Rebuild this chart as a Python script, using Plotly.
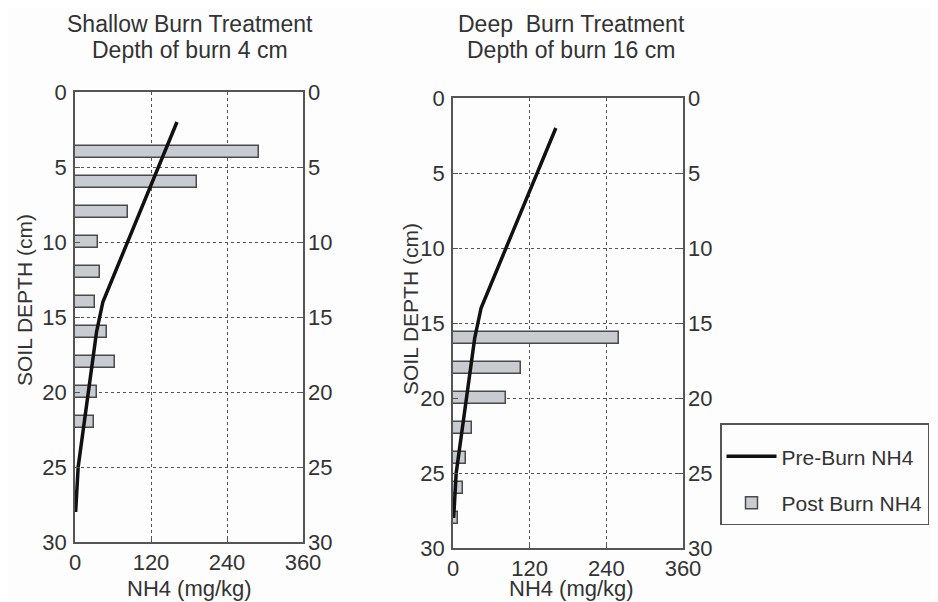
import plotly.graph_objects as go

# pre-burn NH4 profile (depth cm, mg/kg)
pre_depth = [2, 14, 16, 20, 22, 25, 28]
pre_nh4 = [161, 44, 34, 21, 14, 5, 1]

# post-burn NH4 bars
shallow_depth = [4, 6, 8, 10, 12, 14, 16, 18, 20, 22]
shallow_nh4 = [290, 193, 84, 36, 39, 32, 50, 63, 35, 30]

deep_depth = [16, 18, 20, 22, 24, 26, 28]
deep_nh4 = [260, 107, 83, 30, 21, 15, 8]

x_ticks = [0, 120, 240, 360]
y_ticks = [0, 5, 10, 15, 20, 25, 30]

FONT = "Liberation Sans, Arial, sans-serif"
INK = "#333333"
BAR_FILL = "#c9cbd2"
BAR_EDGE = "#4a4a4a"
W, H = 938, 602

fig = go.Figure()

panels = [("x", "y", "y3", shallow_depth, shallow_nh4, True),
          ("x2", "y2", "y4", deep_depth, deep_nh4, False)]
for xa, ya, yr, d, v, show in panels:
    fig.add_trace(go.Scatter(x=pre_nh4, y=pre_depth, xaxis=xa, yaxis=ya, mode="lines",
                             line=dict(color="#111111", width=3.5),
                             name="Pre-Burn NH4", legendgroup="pre", showlegend=show))
    fig.add_trace(go.Bar(x=v, y=d, orientation="h", xaxis=xa, yaxis=ya, width=0.75,
                         marker=dict(color=BAR_FILL, line=dict(color=BAR_EDGE, width=1.5)),
                         name="Post Burn NH4", legendgroup="post", showlegend=show))
    # empty trace so the mirrored right-hand depth axis is drawn
    fig.add_trace(go.Scatter(x=[None], y=[None], xaxis=xa, yaxis=yr, mode="lines",
                             showlegend=False, hoverinfo="skip"))

grid = dict(showgrid=True, gridcolor="#555555", griddash="dot", gridwidth=1,
            showline=True, linecolor="#555555", linewidth=1.5, mirror=True,
            ticks="inside", ticklen=5, tickcolor="#555555", zeroline=False,
            automargin=False, tickfont=dict(size=22, color=INK, family=FONT))


def xaxis(domain, anchor):
    return dict(domain=domain, anchor=anchor, range=[0, 360], tickvals=x_ticks, **grid)


def yaxis(domain, anchor):
    return dict(domain=domain, anchor=anchor, range=[30, 0], tickvals=y_ticks,
                ticklabelstandoff=2, **grid)


def yright(domain, anchor, over):
    return dict(domain=domain, anchor=anchor, overlaying=over, side="right",
                range=[30, 0], tickvals=y_ticks, showgrid=False, zeroline=False,
                ticks="inside", ticklen=5, tickcolor="#555555", automargin=False,
                ticklabelstandoff=4, tickfont=dict(size=22, color=INK, family=FONT))


def label(text, x, y, size=23, angle=0):
    # x, y in figure pixels from the top-left corner
    return dict(text=text, x=x / W, y=1 - y / H, xref="paper", yref="paper",
                xanchor="center", yanchor="middle", showarrow=False, textangle=angle,
                font=dict(size=size, color=INK, family=FONT))


fig.update_layout(
    width=W, height=H,
    margin=dict(l=0, r=0, t=0, b=0, autoexpand=False),
    paper_bgcolor="#fdfdfd", plot_bgcolor="#fdfdfd",
    font=dict(family=FONT, color=INK),
    bargap=0,
    xaxis=xaxis([67 / W, 295 / W], "y"),
    yaxis=yaxis([1 - 534 / H, 1 - 84 / H], "x"),
    xaxis2=xaxis([445 / W, 675 / W], "y2"),
    yaxis2=yaxis([1 - 540 / H, 1 - 90 / H], "x2"),
    yaxis3=yright([1 - 534 / H, 1 - 84 / H], "x", "y"),
    yaxis4=yright([1 - 540 / H, 1 - 90 / H], "x2", "y2"),
    legend=dict(x=712 / W, y=1 - 415 / H, xanchor="left", yanchor="top",
                bgcolor="#fdfdfd", bordercolor="#555555", borderwidth=1.5,
                font=dict(size=21, color=INK, family=FONT),
                title=dict(text="\u00a0", font=dict(size=9)),
                tracegroupgap=16, itemwidth=50, entrywidth=200),
    annotations=[
        label("Shallow Burn Treatment", 182, 16),
        label("Depth of burn 4 cm", 182, 42),
        label("Deep\u00a0 Burn Treatment", 563, 16),
        label("Depth of burn 16 cm", 563, 42),
        label("NH4 (mg/kg)", 181, 580, size=22),
        label("NH4 (mg/kg)", 563, 580, size=22),
        label("SOIL DEPTH (cm)", 16, 292, size=21, angle=-90),
        label("SOIL DEPTH (cm)", 402, 301, size=21, angle=-90),
    ],
)

fig.write_html("out.html")
